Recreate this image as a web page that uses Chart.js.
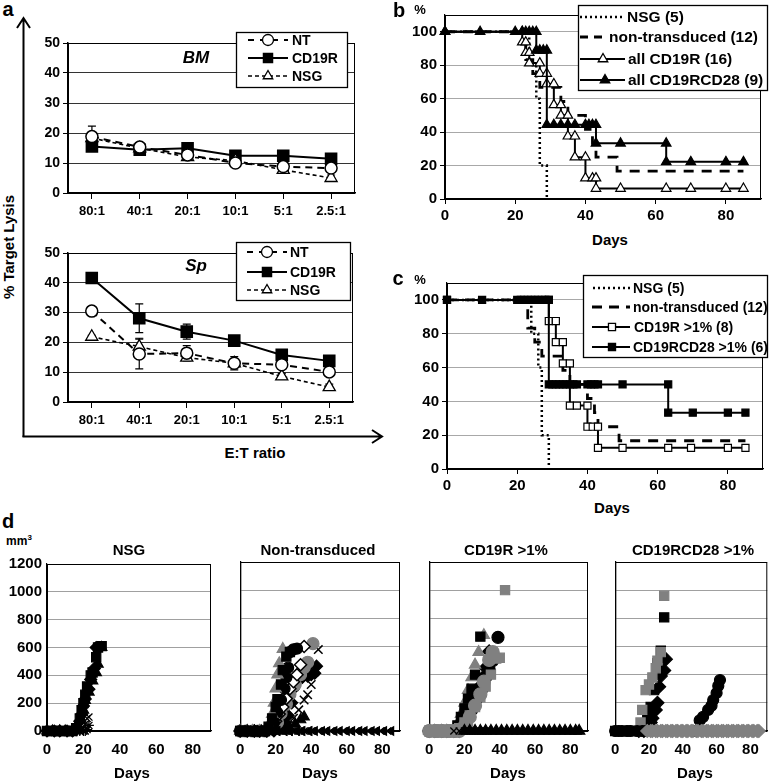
<!DOCTYPE html>
<html><head><meta charset="utf-8">
<script src="https://cdn.jsdelivr.net/npm/chart.js@4/dist/chart.umd.min.js"></script>
<style>
body{margin:0;background:#fff;width:775px;height:781px;position:relative;overflow:hidden;font-family:"Liberation Sans",Arial,sans-serif;}
canvas{position:absolute;}
.t{position:absolute;white-space:nowrap;color:#000;font-weight:bold;transform:translate(-50%,-50%);line-height:1;}
</style></head><body>
<script>
// ---------- DATA ----------
// Panel a (cytotoxicity)
const etRatios = ['80:1','40:1','20:1','10:1','5:1','2.5:1'];
const yTicksA = [0,10,20,30,40,50];
const bmNT = [18.8,15.3,12.7,10.0,8.8,8.3];
const bmCD19R = [15.5,14.4,14.9,12.4,12.4,11.4];
const bmNSG = [18.3,14.9,12.0,10.8,7.7,5.0];
const bmNTerr = [3.5,1,1,1.5,1,1];
const bmCD19Rerr = [0.8,0.8,0.8,0.8,0.8,0.8];
const bmNSGerr = [1,1,1,1,1,1];
const spNT = [30.5,16.1,16.4,13.0,12.5,10.1];
const spCD19R = [41.6,28.1,23.6,20.6,15.8,13.8];
const spNSG = [21.9,18.6,14.9,13.0,8.6,5.0];
const spNTerr = [0.5,5,2.5,2.2,1,1];
const spCD19Rerr = [0.5,4.8,2.5,1,1,1];
const spNSGerr = [0.5,2.8,1,1,1,1];

// Panel b / c (survival, [day, %])
const kmNSG = [[0,100],[24,100],[24,80],[26,80],[26,60],[27,60],[27,20],[29,20],[29,0]];
const kmNT = [[0,100],[23,100],[23,83.3],[25,83.3],[25,75],[27,75],[27,66.7],[33,66.7],[33,58.3],[35,58.3],[35,50],[40,50],[40,41.7],[42,41.7],[42,33.3],[43,33.3],[43,25],[49,25],[49,16.7],[85,16.7]];
const kmAllCD19R = [[0,100],[22,100],[22,93.75],[23,93.75],[23,87.5],[24,87.5],[24,81.25],[27,81.25],[27,75],[29,75],[29,68.75],[31,68.75],[31,56.25],[33,56.25],[33,50],[35,50],[35,37.5],[37,37.5],[37,25],[40,25],[40,12.5],[42,12.5],[43,12.5],[43,6.25],[50,6.25],[63,6.25],[70,6.25],[80,6.25],[85,6.25]];
const kmAllCD28 = [[0,100],[10,100],[20,100],[22,100],[23,100],[24,100],[25,100],[26,100],[26,88.9],[27,88.9],[28,88.9],[29,88.9],[29,44.4],[31,44.4],[33,44.4],[35,44.4],[37,44.4],[40,44.4],[41,44.4],[42,44.4],[43,44.4],[43,33.3],[50,33.3],[63,33.3],[63,22.2],[70,22.2],[80,22.2],[85,22.2]];
const kmCD19R1 = [[0,100],[29,100],[29,87.5],[31,87.5],[31,75],[33,75],[33,62.5],[35,62.5],[35,37.5],[37,37.5],[40,37.5],[40,25],[41.5,25],[43,25],[43,12.5],[50,12.5],[63,12.5],[69.5,12.5],[80,12.5],[85,12.5]];
const kmCD28_1 = [[0,100],[10,100],[20,100],[21,100],[22,100],[23,100],[24,100],[25,100],[26,100],[27,100],[28,100],[29,100],[29,50],[30,50],[31,50],[32,50],[33,50],[34,50],[35,50],[36,50],[37,50],[40,50],[41,50],[42,50],[43,50],[50,50],[63,50],[63,33.3],[70,33.3],[80,33.3],[85,33.3]];

// Panel d (tumour volume, [day, mm3])
const nsgSq = [[0,0],[3,0],[5,0],[7,0],[10,0],[12,0],[14,0],[16,20],[18,90],[19,150],[20,200],[21,260],[22,320],[24,400],[25,420],[27,530],[28,600],[30,610]];
const nsgDia = [[0,0],[4,0],[7,0],[11,0],[14,0],[16,10],[18,70],[19,120],[20,180],[21,230],[23,300],[24,370],[26,450],[27,600]];
const nsgTri = [[0,0],[3,0],[7,0],[10,0],[14,0],[17,30],[18,80],[20,150],[21,220],[23,280],[25,360],[27,420],[28,480],[30,600]];
const nsgX = [[0,0],[4,0],[8,0],[11,0],[16,0],[18,0],[20,20],[21,50],[22,90],[23,100]];
const nsgStar = [[0,0],[3,0],[7,0],[10,0],[14,0],[18,0],[20,0],[21,0],[22,10],[23,40]];

const ntSq = [[0,0],[3,0],[7,0],[10,0],[14,0],[16,30],[18,90],[20,170],[21,225],[23,330],[24,432],[26,528],[28,560]];
const ntTriG = [[0,0],[4,0],[7,0],[11,0],[14,0],[16,40],[18,120],[19,200],[20,300],[21,400],[22,480],[24,582]];
const ntCirc = [[0,0],[3,0],[7,0],[10,0],[14,0],[17,20],[19,60],[21,130],[23,220],[25,300],[26,380],[27,450],[28,560],[30,580],[32,585]];
const ntDiaOpen = [[0,0],[4,0],[8,0],[11,0],[15,0],[18,30],[20,70],[22,120],[24,170],[26,230],[28,300],[30,350],[32,400],[34,470],[36,600]];
const ntCircG = [[0,0],[3,0],[7,0],[10,0],[14,0],[18,20],[21,60],[23,125],[26,190],[28,260],[31,330],[34,400],[36,450],[38,488],[41,620]];
const ntDia = [[0,0],[4,0],[8,0],[11,0],[15,0],[19,0],[22,20],[25,60],[27,110],[29,200],[30,300],[32,370],[35,380],[38,390],[40,400],[42,410],[43,460]];
const ntX = [[0,0],[4,0],[8,0],[12,0],[16,0],[20,0],[24,10],[27,40],[30,90],[33,150],[36,220],[38,258],[40,330],[42,420],[44,578]];
const ntSqG = [[0,0],[3,0],[7,0],[10,0],[14,0],[17,20],[20,60],[22,110],[25,170],[27,240],[30,320],[33,380]];
const ntTri = [[0,0],[4,0],[8,0],[12,0],[16,0],[20,0],[25,0],[28,20],[31,50],[34,80],[36,100]];
const ntLeft = [[0,0],[4,0],[7,0],[11,0],[14,0],[18,0],[21,0],[25,0],[28,0],[32,0],[35,0],[39,0],[42,0],[46,0],[49,0],[53,0],[56,0],[60,0],[63,0],[67,0],[70,0],[74,0],[77,0],[81,0],[85,0]];
const ntX0 = [[2,0],[6,0],[9,0],[13,0],[16,0],[20,0],[23,0],[27,0],[30,0],[34,0],[37,0],[41,0],[44,0],[48,0],[51,0],[55,0],[58,0],[62,0],[65,0],[69,0],[72,0],[76,0],[79,0],[83,0]];
const ntStar = [[1,0],[5,0],[8,0],[12,0],[15,0],[19,0],[22,0],[26,0],[29,0],[33,0],[36,0],[40,0]];

const crSqG = [[0,0],[3,0],[7,0],[10,0],[14,0],[17,20],[20,60],[23,110],[26,170],[29,240],[32,315],[35,400],[38,515],[40,520],[43,1000]];
const crSq = [[0,0],[4,0],[7,0],[11,0],[14,0],[16,40],[18,100],[20,160],[22,230],[24,300],[26,400],[29,670]];
const crTriG = [[0,0],[3,0],[7,0],[10,0],[14,0],[16,50],[18,120],[20,200],[22,290],[24,380],[26,470],[28,560],[31,680]];
const crCirc = [[0,0],[4,0],[8,0],[11,0],[15,0],[18,30],[21,80],[24,150],[27,230],[30,300],[32,380],[34,436],[36,500],[39,665]];
const crDia = [[0,0],[3,0],[7,0],[10,0],[14,0],[17,0],[19,30],[21,80],[23,150],[25,200],[27,260],[29,320],[30,375],[32,450],[34,565]];
const crCircG = [[0,0],[3,0],[5,0],[7,0],[10,0],[12,0],[14,0],[17,0],[19,20],[21,50],[23,100],[26,180],[29,260],[31,350],[34,505],[36,560]];
const crX = [[14,0],[17,0],[20,0],[23,0],[26,0],[29,0],[32,0]];
const crTri = [[20,0],[23,0],[26,0],[29,0],[32,0],[35,0],[38,0],[41,0],[44,0],[47,0],[50,0],[53,0],[56,0],[59,0],[62,0],[65,0],[68,0],[71,0],[74,0],[77,0],[80,0],[83,0],[85,0]];

const c28SqG = [[10,0],[13,0],[15,60],[16,150],[18,290],[20,330],[22,380],[24,446],[25,500],[27,560],[29,960]];
const c28Sq = [[0,0],[5,0],[8,0],[11,0],[14,0],[17,40],[19,100],[21,170],[23,290],[25,481],[27,570],[29,807]];
const c28Dia = [[14,0],[17,0],[19,20],[21,60],[22,90],[24,150],[25,200],[26,315],[27,390],[29,430],[30,510]];
const c28Circ = [[0,0],[2,0],[4,0],[7,0],[9,0],[13,0],[16,0],[18,0],[47,0],[50,75],[52,100],[55,150],[57,180],[58,220],[60,270],[61,320],[62,362]];
const c28DiaG = [[19,0],[22,0],[25,0],[28,0],[31,0],[34,0],[37,0],[40,0],[43,0],[46,0],[49,0],[52,0],[55,0],[58,0],[61,0],[64,0],[67,0],[70,0],[73,0],[76,0],[79,0],[82,0],[85,0]];
const c28DiaG2 = [[21,0],[24,0],[27,0],[30,0],[33,0],[36,0],[39,0],[42,0],[45,0],[48,0],[51,0],[54,0],[57,0],[60,0],[63,0],[66,0],[69,0],[72,0],[75,0],[78,0],[81,0],[84,0]];

// ---------- HELPERS ----------
Chart.defaults.font.family = '"Liberation Sans", Arial, sans-serif';
Chart.defaults.font.weight = 'bold';
Chart.defaults.color = '#000';
const FONT = '"Liberation Sans", Arial, sans-serif';
const BLACK = '#000', GRAY = '#808080';
const plain = v => String(v);

function txt(s, x, y, size, extra) {
  const d = document.createElement('div');
  d.className = 't'; d.innerHTML = s;
  d.style.left = x + 'px'; d.style.top = y + 'px'; d.style.fontSize = size + 'px';
  if (extra) Object.assign(d.style, extra);
  document.body.appendChild(d);
}
const xy = a => a.map(p => ({x: p[0], y: p[1]}));

const framePlugin = {
  id: 'frame',
  beforeDatasetsDraw(chart) {
    const a = chart.chartArea, ctx = chart.ctx;
    ctx.save(); ctx.strokeStyle = '#000'; ctx.lineWidth = 1;
    ctx.strokeRect(a.left + 0.5, a.top + 0.5, a.right - a.left - 1, a.bottom - a.top);
    ctx.restore();
  }
};
const errPlugin = {
  id: 'errbars',
  beforeDatasetsDraw(chart) {
    const ctx = chart.ctx, ys = chart.scales.y;
    chart.data.datasets.forEach((ds, i) => {
      if (!ds.errors) return;
      const meta = chart.getDatasetMeta(i);
      ctx.save(); ctx.strokeStyle = '#000'; ctx.lineWidth = 1.2; ctx.setLineDash([]);
      meta.data.forEach((pt, j) => {
        const e = ds.errors[j]; if (!e) return;
        const v = ds.data[j];
        const y1 = ys.getPixelForValue(v + e), y2 = ys.getPixelForValue(v - e);
        ctx.beginPath();
        ctx.moveTo(pt.x, y1); ctx.lineTo(pt.x, y2);
        ctx.moveTo(pt.x - 4, y1); ctx.lineTo(pt.x + 4, y1);
        ctx.moveTo(pt.x - 4, y2); ctx.lineTo(pt.x + 4, y2);
        ctx.stroke();
      });
      ctx.restore();
    });
  }
};
function legendPlugin(cfg, ox, oy) {
  return {
    id: 'boxlegend',
    afterDraw(chart) {
      const ctx = chart.ctx, b = cfg.box;
      ctx.save();
      ctx.fillStyle = '#fff';
      ctx.fillRect(b[0] - ox, b[1] - oy, b[2] - b[0], b[3] - b[1]);
      ctx.strokeStyle = '#000'; ctx.lineWidth = 1.3;
      ctx.strokeRect(b[0] - ox + 0.5, b[1] - oy + 0.5, b[2] - b[0], b[3] - b[1]);
      cfg.items.forEach(it => {
        const y = it.y - oy;
        ctx.strokeStyle = '#000'; ctx.lineWidth = it.w; ctx.setLineDash(it.dash || []);
        ctx.beginPath(); ctx.moveTo(it.x0 - ox, y); ctx.lineTo(it.x1 - ox, y); ctx.stroke();
        ctx.setLineDash([]);
        if (it.ps) {
          ctx.fillStyle = it.fill; ctx.strokeStyle = '#000'; ctx.lineWidth = 1.3;
          Chart.helpers.drawPoint(ctx, {pointStyle: it.ps, radius: it.r, rotation: 0, borderWidth: 1.3}, it.mx - ox, y);
        }
        ctx.fillStyle = '#000'; ctx.font = cfg.font; ctx.textBaseline = 'middle'; ctx.textAlign = 'left';
        ctx.fillText(it.label, it.tx - ox, y + 1);
      });
      ctx.restore();
    }
  };
}
function mk(box, plot, cfg, extraPlugins) {
  const c = document.createElement('canvas');
  c.width = box.w; c.height = box.h;
  c.style.left = box.x + 'px'; c.style.top = box.y + 'px';
  document.body.appendChild(c);
  cfg.options.responsive = false;
  cfg.options.animation = false;
  cfg.options.layout = {padding: {left: 0, top: plot.T - box.y, right: box.x + box.w - plot.R, bottom: 0}};
  cfg.options.scales.y.afterFit = s => { s.width = plot.L - box.x; };
  cfg.options.scales.x.afterFit = s => { s.height = box.y + box.h - plot.B; };
  cfg.options.plugins = Object.assign({legend: {display: false}, tooltip: {enabled: false}}, cfg.options.plugins || {});
  cfg.plugins = [framePlugin, errPlugin].concat(extraPlugins || []);
  return new Chart(c, cfg);
}

// ---------- PANEL a ----------
function lysisChart(box, plot, nt, cd, nsg, ntE, cdE, nsgE, leg) {
  return mk(box, plot, {
    type: 'line',
    data: {
      labels: etRatios,
      datasets: [
        {label: 'CD19R', data: cd, errors: cdE, borderColor: BLACK, borderWidth: 2, pointStyle: 'rect', pointRadius: 7.5,
         pointBackgroundColor: BLACK, pointBorderColor: BLACK, order: 2},
        {label: 'NT', data: nt, errors: ntE, borderColor: BLACK, borderWidth: 2, borderDash: [7, 5], pointStyle: 'circle', pointRadius: 6,
         pointBackgroundColor: '#fff', pointBorderColor: BLACK, pointBorderWidth: 1.5, order: 0},
        {label: 'NSG', data: nsg, errors: nsgE, borderColor: BLACK, borderWidth: 1.6, borderDash: [4, 3], pointStyle: 'triangle', pointRadius: 7,
         pointBackgroundColor: '#fff', pointBorderColor: BLACK, pointBorderWidth: 1.3, order: 1}
      ]
    },
    options: {
      scales: {
        x: {type: 'category', offset: true,
            grid: {display: true, drawOnChartArea: false, offset: false, tickLength: 6, tickColor: '#000'},
            border: {color: '#000', width: 1.5},
            ticks: {font: {size: 13, weight: 'bold'}, padding: 5, color: '#000'}},
        y: {min: 0, max: 50, afterBuildTicks: s => { s.ticks = yTicksA.map(v => ({value: v})); },
            grid: {color: '#333', lineWidth: 1, tickLength: 5, tickColor: '#000'},
            border: {color: '#000', width: 1.5},
            ticks: {font: {size: 14, weight: 'bold'}, padding: 3, color: '#000', callback: plain}}
      }
    }
  }, [legendPlugin(leg, box.x, box.y)]);
}
const legA = (b, ys, x0, x1, mx, tx) => ({
  box: b, font: 'bold 14px ' + FONT,
  items: [
    {label: 'NT', y: ys[0], x0, x1, w: 2, dash: [6, 6], ps: 'circle', r: 5.5, fill: '#fff', mx, tx},
    {label: 'CD19R', y: ys[1], x0, x1, w: 2, dash: [], ps: 'rect', r: 6.5, fill: '#000', mx, tx},
    {label: 'NSG', y: ys[2], x0, x1, w: 1.6, dash: [4, 3], ps: 'triangle', r: 5.5, fill: '#fff', mx, tx}
  ]
});
lysisChart({x: 20, y: 26, w: 345, h: 194}, {L: 68, T: 43, R: 355, B: 193},
  bmNT, bmCD19R, bmNSG, bmNTerr, bmCD19Rerr, bmNSGerr, legA([236, 32, 347, 87], [40, 58, 76], 248, 288, 268, 292));
lysisChart({x: 20, y: 236, w: 345, h: 194}, {L: 68, T: 253, R: 353, B: 402},
  spNT, spCD19R, spNSG, spNTerr, spCD19Rerr, spNSGerr, legA([236, 242, 350, 300], [252, 272, 290], 247, 287, 267, 290));

// ---------- PANELS b & c ----------
function kmChart(box, plot, sets, leg) {
  return mk(box, plot, {
    type: 'line',
    data: {datasets: sets},
    options: {
      scales: {
        x: {type: 'linear', min: 0, max: 90, ticks: {stepSize: 20, includeBounds: false, font: {size: 15, weight: 'bold'}, padding: 3, color: '#000', callback: plain},
            grid: {drawOnChartArea: false, tickLength: 5, tickColor: '#000'}, border: {color: '#000', width: 1.2}},
        y: {min: 0, max: 110, ticks: {stepSize: 20, includeBounds: false, font: {size: 15, weight: 'bold'}, padding: 3, color: '#000', callback: plain},
            grid: {color: '#a8a8a8', lineWidth: 1, tickLength: 5, tickColor: '#000'}, border: {color: '#000', width: 1.2}}
      }
    }
  }, [legendPlugin(leg, box.x, box.y)]);
}
const kmLine = (d, dash, w, order) => ({data: xy(d), borderColor: BLACK, borderWidth: w, borderDash: dash, pointRadius: 0, order, clip: false});
const kmMark = (d, ps, fill, r, order) => ({data: xy(d), borderColor: BLACK, borderWidth: 2, pointStyle: ps, pointRadius: r,
  pointBackgroundColor: fill, pointBorderColor: BLACK, pointBorderWidth: 1.2, order, clip: false});

kmChart({x: 400, y: 2, w: 375, h: 222}, {L: 445, T: 15, R: 761, B: 199}, [
  kmLine(kmNSG, [2, 3], 2.5, 3),
  kmLine(kmNT, [10, 8], 2.8, 2),
  kmMark(kmAllCD19R, 'triangle', '#fff', 5.5, 1),
  kmMark(kmAllCD28, 'triangle', '#000', 5.5, 0)
], {box: [578, 5, 767, 90], font: 'bold 15.5px ' + FONT, items: [
  {label: 'NSG (5)', y: 17, x0: 580, x1: 623, w: 2.5, dash: [2, 3], tx: 627},
  {label: 'non-transduced (12)', y: 37, x0: 580, x1: 606, w: 2.8, dash: [8, 6], tx: 609},
  {label: 'all CD19R (16)', y: 59, x0: 580, x1: 625, w: 2, ps: 'triangle', r: 5.5, fill: '#fff', mx: 603, tx: 628},
  {label: 'all CD19RCD28 (9)', y: 80, x0: 580, x1: 625, w: 2, ps: 'triangle', r: 5.5, fill: '#000', mx: 605, tx: 628}
]});

kmChart({x: 400, y: 270, w: 375, h: 222}, {L: 447, T: 283, R: 763, B: 469}, [
  kmLine(kmNSG, [2, 3], 2.5, 3),
  kmLine(kmNT, [10, 8], 2.8, 2),
  kmMark(kmCD19R1, 'rect', '#fff', 5, 1),
  kmMark(kmCD28_1, 'rect', '#000', 5, 0)
], {box: [583, 275, 767, 357], font: 'bold 14px ' + FONT, items: [
  {label: 'NSG (5)', y: 288, x0: 593, x1: 630, w: 2.5, dash: [2, 3], tx: 633},
  {label: 'non-transduced (12)', y: 307, x0: 592, x1: 630, w: 2.8, dash: [10, 7], tx: 633},
  {label: 'CD19R >1% (8)', y: 327, x0: 592, x1: 630, w: 2, ps: 'rect', r: 5, fill: '#fff', mx: 612, tx: 634},
  {label: 'CD19RCD28 >1% (6)', y: 347, x0: 592, x1: 630, w: 2, ps: 'rect', r: 5, fill: '#000', mx: 612, tx: 633}
]});

// ---------- PANEL d ----------
function S(d, ps, color, opt) {
  return Object.assign({data: xy(d), pointStyle: ps, pointRadius: 5, pointBackgroundColor: color, pointBorderColor: color,
    pointBorderWidth: 1.2, clip: false}, opt || {});
}
function volChart(box, plot, sets, showY) {
  return mk(box, plot, {
    type: 'scatter',
    data: {datasets: sets},
    options: {
      scales: {
        x: {type: 'linear', min: 0, max: 90, ticks: {stepSize: 20, includeBounds: false, font: {size: 15, weight: 'bold'}, padding: 10, color: '#000', callback: plain},
            grid: {drawOnChartArea: false, drawTicks: false}, border: {color: '#000', width: 1.2}},
        y: {min: 0, max: 1200, ticks: {display: showY, stepSize: 200, font: {size: 15, weight: 'bold'}, padding: 5, color: '#000', callback: plain},
            grid: {color: '#a0a0a0', lineWidth: 1, drawTicks: false}, border: {color: '#000', width: 1.2}}
      }
    }
  });
}
volChart({x: 0, y: 550, w: 222, h: 215}, {L: 47, T: 562, R: 211, B: 731}, [
  S(nsgSq, 'rect', BLACK, {pointRadius: 6.5}),
  S(nsgDia, 'rectRot', BLACK, {pointRadius: 6}),
  S(nsgTri, 'triangle', BLACK, {pointRadius: 6}),
  S(nsgX, 'crossRot', BLACK, {pointBorderWidth: 1.3}),
  S(nsgStar, 'star', BLACK, {pointBorderWidth: 1.3})
], true);
volChart({x: 226, y: 550, w: 184, h: 215}, {L: 236, T: 562, R: 400, B: 731}, [
  S(ntLeft, 'triangle', BLACK, {pointRotation: -90, pointRadius: 5}),
  S(ntX0, 'crossRot', BLACK, {pointBorderWidth: 1.3}),
  S(ntStar, 'star', BLACK),
  S(ntTri, 'triangle', BLACK, {pointRadius: 6}),
  S(ntSq, 'rect', BLACK, {pointRadius: 6.5}),
  S(ntTriG, 'triangle', GRAY, {pointRadius: 6.5}),
  S(ntCirc, 'circle', BLACK, {pointRadius: 5.5}),
  S(ntDiaOpen, 'rectRot', '#fff', {pointBorderColor: BLACK, pointBorderWidth: 1.5, pointRadius: 6}),
  S(ntCircG, 'circle', GRAY, {pointRadius: 6}),
  S(ntDia, 'rectRot', BLACK, {pointRadius: 6}),
  S(ntX, 'crossRot', BLACK, {pointBorderWidth: 1.5, pointRadius: 6}),
  S(ntSqG, 'rect', GRAY, {pointRadius: 6.5})
], false);
volChart({x: 415, y: 550, w: 184, h: 215}, {L: 425, T: 562, R: 588, B: 731}, [
  S(crTri, 'triangle', BLACK, {pointRadius: 6.5}),
  S(crX, 'crossRot', BLACK, {pointBorderWidth: 1.3}),
  S(crCircG, 'circle', GRAY, {pointRadius: 6.5}),
  S(crSqG, 'rect', GRAY, {pointRadius: 6.5}),
  S(crSq, 'rect', BLACK, {pointRadius: 6.5}),
  S(crTriG, 'triangle', GRAY, {pointRadius: 6.5}),
  S(crCirc, 'circle', BLACK, {pointRadius: 6}),
  S(crDia, 'rectRot', BLACK, {pointRadius: 6.5})
], false);
volChart({x: 601, y: 550, w: 174, h: 215}, {L: 611, T: 562, R: 773, B: 731}, [
  S(c28DiaG2, 'rectRot', GRAY, {pointRadius: 6.5}),
  S(c28DiaG, 'rectRot', GRAY, {pointRadius: 6.5}),
  S(c28Circ, 'circle', BLACK, {pointRadius: 5.5}),
  S(c28SqG, 'rect', GRAY, {pointRadius: 6.5}),
  S(c28Sq, 'rect', BLACK, {pointRadius: 6.5}),
  S(c28Dia, 'rectRot', BLACK, {pointRadius: 6.5})
], false);

// ---------- TEXT ----------
txt('a', 8, 9, 20);
txt('% Target Lysis', 8, 247, 15, {transform: 'translate(-50%,-50%) rotate(-90deg)'});
txt('E:T ratio', 255, 452, 15);
txt('BM', 196, 57, 17, {fontStyle: 'italic'});
txt('Sp', 196, 265, 17, {fontStyle: 'italic'});
txt('b', 399, 10, 20);
txt('%', 420, 9, 13);
txt('Days', 610, 239, 15);
txt('c', 398, 278, 20);
txt('%', 420, 279, 13);
txt('Days', 612, 507, 15);
txt('d', 8, 521, 20);
txt('mm<sup style="font-size:8px">3</sup>', 19, 540, 12);
txt('NSG', 129, 549, 15);
txt('Non-transduced', 318, 549, 15);
txt('CD19R >1%', 506, 549, 15);
txt('CD19RCD28 >1%', 693, 549, 15);
txt('Days', 132, 772, 15);
txt('Days', 320, 772, 15);
txt('Days', 508, 772, 15);
txt('Days', 695, 772, 15);
</script>
<svg style="position:absolute;left:0;top:0;pointer-events:none" width="775" height="781">
<path d="M23.5 437 L23.5 19 M17 28 L23.5 18 L30 28" stroke="#000" stroke-width="2" fill="none"/>
<path d="M22.5 436.5 L381 436.5 M372 430 L382 436.5 L372 443" stroke="#000" stroke-width="2" fill="none"/>
</svg>
</body></html>
